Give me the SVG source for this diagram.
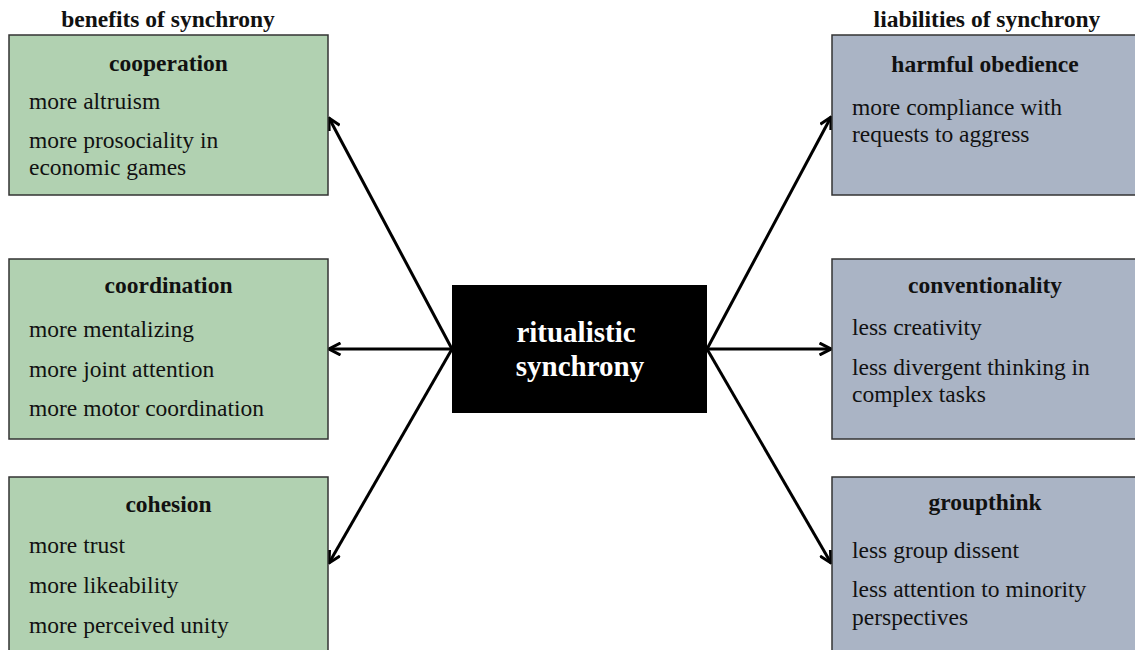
<svg xmlns="http://www.w3.org/2000/svg" width="1135" height="650" viewBox="0 0 1135 650">
<style>
text{font-family:"Liberation Serif","Times New Roman",serif;font-size:23.5px;fill:#111}
.h{font-weight:bold;text-anchor:middle}
.ben{fill:#b1d1b1;stroke:#333;stroke-width:1.5}
.lia{fill:#aab4c5;stroke:#333;stroke-width:1.5}
.c{fill:#fff;font-weight:bold;font-size:29px;text-anchor:middle}
.con{stroke:#000;stroke-width:3;fill:none}
</style>
<defs>
<marker id="ah" viewBox="0 0 14 14" refX="12.5" refY="7" markerWidth="14" markerHeight="14" markerUnits="userSpaceOnUse" orient="auto">
<path d="M1,1 L12.5,7 L1,13" fill="none" stroke="#000" stroke-width="3"/>
</marker>
</defs>
<rect width="1135" height="650" fill="#fff"/>
<text class="h" x="168" y="27">benefits of synchrony</text>
<text class="h" x="987" y="27">liabilities of synchrony</text>
<g id="connectors">
<line class="con" x1="452" y1="349" x2="329" y2="118" marker-end="url(#ah)"/>
<line class="con" x1="452" y1="349" x2="329" y2="349" marker-end="url(#ah)"/>
<line class="con" x1="452" y1="349" x2="329" y2="563" marker-end="url(#ah)"/>
<line class="con" x1="707" y1="349" x2="831" y2="117" marker-end="url(#ah)"/>
<line class="con" x1="707" y1="349" x2="831" y2="349" marker-end="url(#ah)"/>
<line class="con" x1="707" y1="349" x2="831" y2="563" marker-end="url(#ah)"/>
</g>
<g id="cooperation">
<rect class="ben" x="9" y="35" width="319" height="160"/>
<text class="h" x="168.5" y="71">cooperation</text>
<text x="29" y="109">more altruism</text>
<text x="29" y="148">more prosociality in</text>
<text x="29" y="175">economic games</text>
</g>
<g id="coordination">
<rect class="ben" x="9" y="259" width="319" height="180"/>
<text class="h" x="168.5" y="293">coordination</text>
<text x="29" y="337">more mentalizing</text>
<text x="29" y="377">more joint attention</text>
<text x="29" y="416">more motor coordination</text>
</g>
<g id="cohesion">
<rect class="ben" x="9" y="477" width="319" height="190"/>
<text class="h" x="168.5" y="512">cohesion</text>
<text x="29" y="553">more trust</text>
<text x="29" y="593">more likeability</text>
<text x="29" y="633">more perceived unity</text>
</g>
<g id="center">
<rect x="452" y="285" width="255" height="128" fill="#000"/>
<text class="c" x="576" y="342">ritualistic</text>
<text class="c" x="580" y="376">synchrony</text>
</g>
<g id="harmful-obedience">
<rect class="lia" x="832" y="35" width="306" height="160"/>
<text class="h" x="985" y="72">harmful obedience</text>
<text x="852" y="115">more compliance with</text>
<text x="852" y="142">requests to aggress</text>
</g>
<g id="conventionality">
<rect class="lia" x="832" y="259" width="306" height="180"/>
<text class="h" x="985" y="293">conventionality</text>
<text x="852" y="335">less creativity</text>
<text x="852" y="375">less divergent thinking in</text>
<text x="852" y="402">complex tasks</text>
</g>
<g id="groupthink">
<rect class="lia" x="832" y="477" width="306" height="190"/>
<text class="h" x="985" y="510">groupthink</text>
<text x="852" y="558">less group dissent</text>
<text x="852" y="597">less attention to minority</text>
<text x="852" y="625">perspectives</text>
</g>
</svg>
